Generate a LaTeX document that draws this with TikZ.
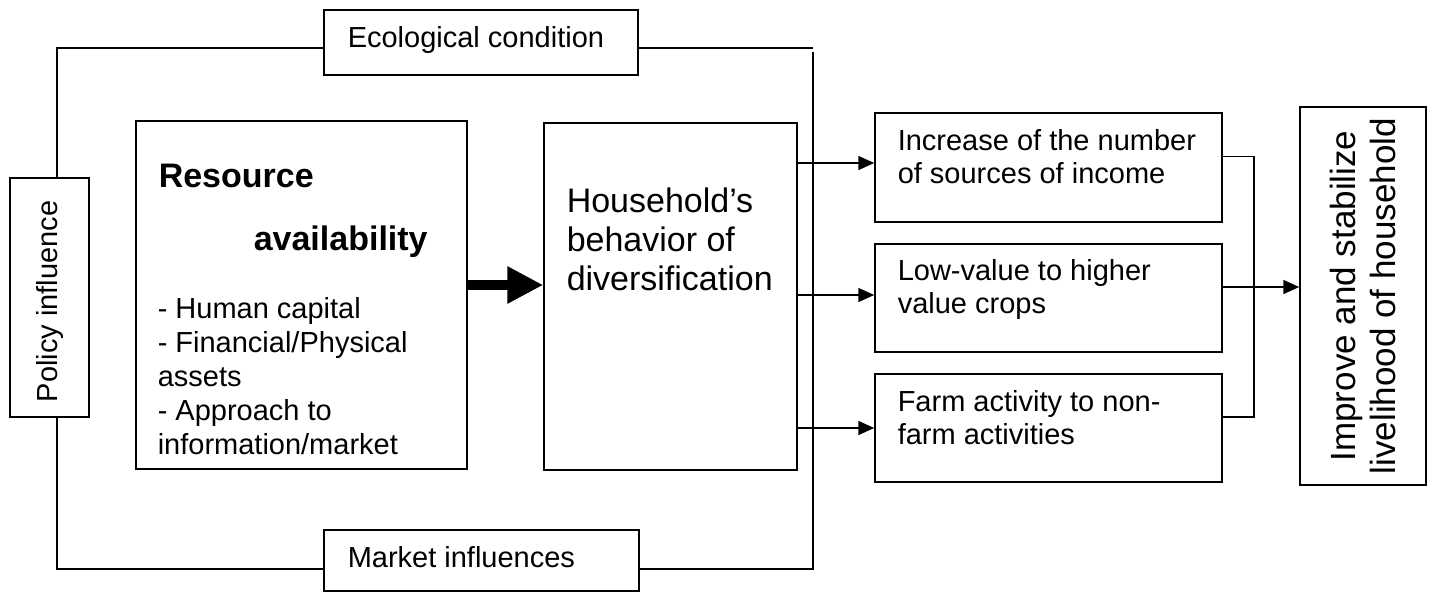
\documentclass[tikz,border=0pt]{standalone}
\usepackage{fontspec}
\setmainfont{Liberation Sans}
\usetikzlibrary{arrows.meta}

\tikzset{
  box/.style={draw, line width=1.5pt, inner sep=0pt},
  txt/.style={anchor=base west, inner sep=0pt, align=left, font=\fontsize{29}{33}\selectfont},
  arr/.style={line width=1.5pt, -{Triangle[length=16pt,width=14pt]}},
  fat/.style={line width=10pt, -{Triangle[length=36pt,width=35pt]}},
}

\begin{document}
\begin{tikzpicture}[x=1pt,y=-1pt,line width=1.5pt]
    \useasboundingbox (0,0) rectangle (1431,592);

    % 外框上的影响因素
    \node [box,minimum width=314pt,minimum height=65pt] (eco) at (481,42.5) {};
    \node [txt] (ecotxt) at (347,47) {Ecological condition};
    \node [box,minimum width=315pt,minimum height=61pt] (mkt) at (481.5,560.5) {};
    \node [txt] (mkttxt) at (347,567) {Market influences};
    \node [box,minimum width=79pt,minimum height=239pt] (pol) at (49.5,297.5) {};
    \node [txt,rotate=90] (poltxt) at (57,403) {Policy influence};

    % 外框
    \coordinate (tl) at (57,48);
    \coordinate (tr) at (813,48);
    \coordinate (bl) at (57,569);
    \coordinate (br) at (813,569);
    \draw (eco.west |- tl) -- (tl) -- (tl |- pol.north);
    \draw (tl |- pol.south) -- (bl) -- (mkt.west |- bl);
    \draw (eco.east |- tr) -- (tr);
    \draw ([yshift=-4pt]tr) -- (br) -- (mkt.east |- br);

    % 资源与家庭行为 (多行文字以末行基线定位)
    \node [box,minimum width=331pt,minimum height=348pt] (res) at (301.5,295) {};
    \node [txt,font=\fontsize{34}{39}\selectfont\bfseries] (restitle) at (158,187) {Resource};
    \node [txt,font=\fontsize{34}{39}\selectfont\bfseries] (resavail) at (253,250) {availability};
    \node [txt,font=\fontsize{29}{34}\selectfont] (reslist) at (157,454)
        {- Human capital\\- Financial/Physical\\assets\\- Approach to\\information/market};
    \node [box,minimum width=253pt,minimum height=347pt] (hh) at (670.5,296.5) {};
    \node [txt,font=\fontsize{34}{39}\selectfont] (hhtxt) at (566,290)
        {Household’s\\behavior of\\diversification};
    \coordinate (fa) at ([yshift=10pt]res.east);
    \draw [fat] (fa) -- (fa -| hh.west);

    % 三种多样化结果
    \node [box,minimum width=347pt,minimum height=109pt] (inc) at (1048.5,167.5) {};
    \node [txt] (inctxt) at (897,183) {Increase of the number\\of sources of income};
    \node [box,minimum width=347pt,minimum height=108pt] (crop) at (1048.5,298) {};
    \node [txt] (croptxt) at (897,313) {Low-value to higher\\value crops};
    \node [box,minimum width=347pt,minimum height=108pt] (farm) at (1048.5,428) {};
    \node [txt] (farmtxt) at (897,444) {Farm activity to non-\\farm activities};
    \coordinate (a1) at ([yshift=4.5pt]inc.west);
    \coordinate (a2) at ([yshift=3pt]crop.west);
    \coordinate (a3) at (farm.west);
    \draw [arr] (hh.east |- a1) -- (a1);
    \draw [arr] (hh.east |- a2) -- (a2);
    \draw [arr] (hh.east |- a3) -- (a3);

    % 生计目标
    \node [box,minimum width=126pt,minimum height=378pt] (goal) at (1363,296) {};
    \node [rotate=90,align=center,inner sep=0pt,font=\fontsize{35}{40}\selectfont] (goaltxt) at (1363,296)
        {Improve and stabilize\\livelihood of household};
    \coordinate (o1) at ([yshift=11pt]inc.east);
    \coordinate (o2) at ([yshift=11pt]crop.east);
    \coordinate (o3) at ([yshift=11pt]farm.east);
    \draw (o1) -- ++(31,0) |- (o3);
    \draw [arr] (o2) -- (o2 -| goal.west);
\end{tikzpicture}
\end{document}
